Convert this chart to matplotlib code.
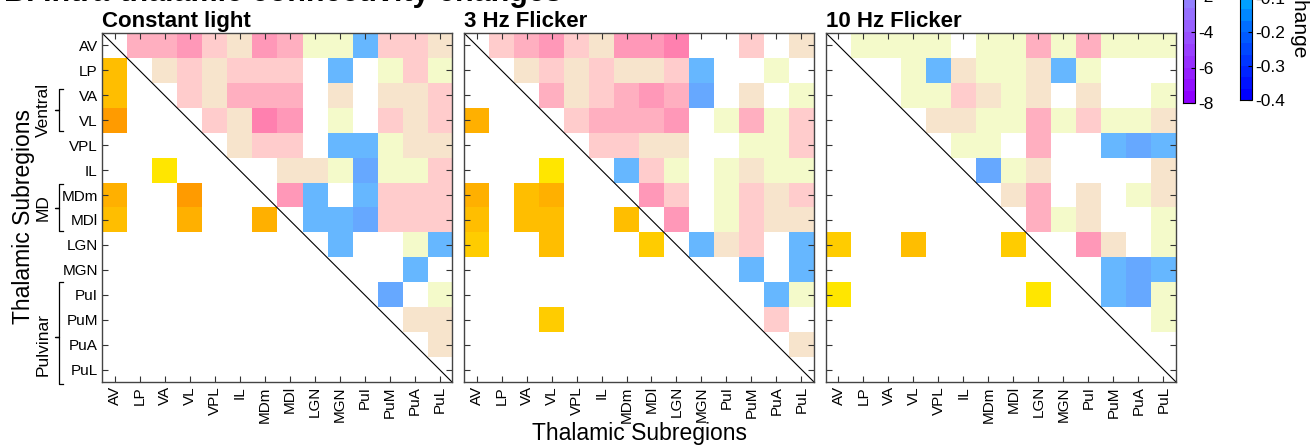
import numpy as np
import matplotlib
matplotlib.use("Agg")
import matplotlib.pyplot as plt
from matplotlib.colors import ListedColormap, Normalize
from matplotlib.cm import ScalarMappable

plt.rcParams['font.family'] = ['Liberation Sans', 'DejaVu Sans']
plt.rcParams['axes.unicode_minus'] = False

regions = ["AV", "LP", "VA", "VL", "VPL", "IL", "MDm", "MDl",
           "LGN", "MGN", "PuI", "PuM", "PuA", "PuL"]
titles = ["Constant light", "3 Hz Flicker", "10 Hz Flicker"]

# upper triangle: connectivity change (0 = not significant)
change_const = [
  [0, .15, .15, .18, .12, .08, .18, .15, .05, .05, -.15, .12, .12, .08],
  [0, 0, .08, .12, .08, .12, .12, .12, 0, -.15, 0, .05, .12, .05],
  [0, 0, 0, .12, .08, .15, .15, .15, 0, .08, 0, .08, .08, .12],
  [0, 0, 0, 0, .12, .08, .22, .18, 0, .05, 0, .12, .08, .12],
  [0, 0, 0, 0, 0, .08, .12, .12, 0, -.15, -.15, .05, .08, .08],
  [0, 0, 0, 0, 0, 0, 0, .08, .08, .05, -.19, .05, .05, .12],
  [0, 0, 0, 0, 0, 0, 0, .18, -.15, 0, -.15, .12, .12, .12],
  [0, 0, 0, 0, 0, 0, 0, 0, -.15, -.15, -.19, .12, .12, .12],
  [0, 0, 0, 0, 0, 0, 0, 0, 0, -.15, 0, 0, .05, -.15],
  [0, 0, 0, 0, 0, 0, 0, 0, 0, 0, 0, 0, -.15, 0],
  [0, 0, 0, 0, 0, 0, 0, 0, 0, 0, 0, -.19, 0, .05],
  [0, 0, 0, 0, 0, 0, 0, 0, 0, 0, 0, 0, .08, .08],
  [0, 0, 0, 0, 0, 0, 0, 0, 0, 0, 0, 0, 0, .08],
  [0, 0, 0, 0, 0, 0, 0, 0, 0, 0, 0, 0, 0, 0],
]
change_3hz = [
  [0, .12, .15, .18, .12, .08, .18, .18, .22, 0, 0, .12, 0, .08],
  [0, 0, .08, .12, .08, .12, .08, .08, .12, -.15, 0, 0, .05, 0],
  [0, 0, 0, .15, .08, .12, .15, .18, .15, -.19, 0, .08, 0, .05],
  [0, 0, 0, 0, .12, .15, .15, .15, .18, 0, .05, .15, .05, .12],
  [0, 0, 0, 0, 0, .12, .12, .08, .08, 0, 0, .05, .05, .12],
  [0, 0, 0, 0, 0, 0, -.15, .12, .05, 0, .05, .08, .05, .05],
  [0, 0, 0, 0, 0, 0, 0, .18, .12, 0, .05, .12, .08, .12],
  [0, 0, 0, 0, 0, 0, 0, 0, .18, 0, .05, .12, .08, .08],
  [0, 0, 0, 0, 0, 0, 0, 0, 0, -.15, .08, .12, 0, -.15],
  [0, 0, 0, 0, 0, 0, 0, 0, 0, 0, 0, -.15, 0, -.15],
  [0, 0, 0, 0, 0, 0, 0, 0, 0, 0, 0, 0, -.15, .05],
  [0, 0, 0, 0, 0, 0, 0, 0, 0, 0, 0, 0, .12, 0],
  [0, 0, 0, 0, 0, 0, 0, 0, 0, 0, 0, 0, 0, .08],
  [0, 0, 0, 0, 0, 0, 0, 0, 0, 0, 0, 0, 0, 0],
]
change_10hz = [
  [0, .05, .05, .05, .05, 0, .05, .05, .15, .05, .15, .05, .05, .05],
  [0, 0, 0, .05, -.15, .08, .05, .05, .08, -.15, .05, 0, 0, 0],
  [0, 0, 0, .05, .05, .12, .08, .05, .08, 0, .08, 0, 0, .05],
  [0, 0, 0, 0, .08, .08, .05, .05, .15, .05, .12, .05, .05, .08],
  [0, 0, 0, 0, 0, .05, .05, 0, .15, 0, 0, -.15, -.19, -.15],
  [0, 0, 0, 0, 0, 0, -.19, .05, .08, 0, 0, 0, 0, .08],
  [0, 0, 0, 0, 0, 0, 0, .08, .15, 0, .08, 0, .05, .08],
  [0, 0, 0, 0, 0, 0, 0, 0, .15, .05, .08, 0, 0, .05],
  [0, 0, 0, 0, 0, 0, 0, 0, 0, 0, .18, .08, 0, .05],
  [0, 0, 0, 0, 0, 0, 0, 0, 0, 0, 0, -.15, -.19, -.15],
  [0, 0, 0, 0, 0, 0, 0, 0, 0, 0, 0, -.15, -.19, .05],
  [0, 0, 0, 0, 0, 0, 0, 0, 0, 0, 0, 0, 0, .05],
  [0, 0, 0, 0, 0, 0, 0, 0, 0, 0, 0, 0, 0, 0],
  [0, 0, 0, 0, 0, 0, 0, 0, 0, 0, 0, 0, 0, 0],
]

# lower triangle: t values of significant pairs (row, col, t)
tval_const = [("LP", "AV", 5.0), ("VA", "AV", 5.0), ("VL", "AV", 6.3),
              ("IL", "VA", 3.0), ("MDm", "AV", 5.6), ("MDm", "VL", 6.3),
              ("MDl", "AV", 5.0), ("MDl", "VL", 5.6), ("MDl", "MDm", 5.6)]
tval_3hz = [("VL", "AV", 5.6), ("IL", "VL", 3.0), ("MDm", "AV", 5.6),
            ("MDm", "VA", 5.0), ("MDm", "VL", 5.6), ("MDl", "AV", 5.0),
            ("MDl", "VA", 5.0), ("MDl", "VL", 5.0), ("MDl", "MDm", 5.0),
            ("LGN", "AV", 4.3), ("LGN", "VL", 5.0), ("LGN", "MDl", 4.3),
            ("PuM", "VL", 4.3)]
tval_10hz = [("LGN", "AV", 4.3), ("LGN", "VL", 5.0), ("LGN", "MDl", 4.3),
             ("PuI", "AV", 3.0), ("PuI", "LGN", 3.0)]

t_colors = [(143, 0, 255), (146, 16, 255), (149, 32, 255), (151, 48, 255),
            (153, 64, 255), (153, 80, 255), (152, 96, 255), (150, 112, 255),
            (148, 128, 255), (150, 145, 255), (180, 178, 255), (220, 218, 255),
            (255, 255, 225), (255, 250, 180), (255, 245, 120), (255, 238, 60),
            (255, 230, 0), (255, 217, 0), (255, 204, 0), (255, 190, 0),
            (255, 176, 0), (255, 155, 0), (255, 125, 0), (255, 90, 0)]
ch_colors = [(0, 0, 255), (0, 18, 255), (0, 36, 255), (0, 54, 255),
             (0, 72, 255), (0, 90, 255), (0, 110, 255), (0, 135, 255),
             (0, 160, 255), (0, 185, 255), (0, 205, 255), (130, 230, 255),
             (245, 250, 215), (238, 247, 168), (243, 210, 170), (255, 170, 170),
             (255, 123, 150), (255, 83, 137), (255, 43, 123), (245, 20, 110),
             (230, 0, 100), (210, 0, 90), (190, 0, 80), (170, 0, 70)]
cmap_t = ListedColormap(np.array(t_colors) / 255.0)
cmap_ch = ListedColormap(np.array(ch_colors) / 255.0)
norm_t = Normalize(-8, 8)
norm_ch = Normalize(-0.4, 0.4)

W, H = 1312, 446
fig = plt.figure(figsize=(W / 100, H / 100), dpi=100)

def fx(px):
  return px / W

def fy(py):
  return 1 - py / H

n = len(regions)
idx = {r: i for i, r in enumerate(regions)}
lefts = [102, 464, 826]
changes = [change_const, change_3hz, change_10hz]
tvals = [tval_const, tval_3hz, tval_10hz]

axes = []
for k in range(3):
  ax = fig.add_axes([fx(lefts[k]), fy(382), 350 / W, 349 / H])
  up = np.array(changes[k], dtype=float)
  up[up == 0] = np.nan
  low = np.full((n, n), np.nan)
  for r, c, v in tvals[k]:
    low[idx[r], idx[c]] = v
  ax.imshow(low, cmap=cmap_t, norm=norm_t, interpolation='nearest', aspect='auto')
  ax.imshow(up, cmap=cmap_ch, norm=norm_ch, interpolation='nearest', aspect='auto', alpha=0.6)
  ax.plot([-0.5, n - 0.5], [-0.5, n - 0.5], color='k', lw=0.8)
  ax.set_xlim(-0.5, n - 0.5)
  ax.set_ylim(n - 0.5, -0.5)
  ax.set_xticks(range(n))
  ax.set_yticks(range(n))
  ax.set_xticklabels(regions, rotation=90)
  ax.set_yticklabels(regions if k == 0 else [])
  ax.tick_params(direction='in', top=True, right=True, length=4, width=0.8,
                 color='#333333', labelsize=11, pad=3)
  for s in ax.spines.values():
    s.set_color('#444444')
    s.set_linewidth(1.0)
  ax.set_title(titles[k], loc='left', fontsize=16, fontweight='bold', pad=4)
  axes.append(ax)

# group brackets on the left panel
ax = axes[0]
def bracket(ax, y0, y1, ym, label, ylab):
  x = -2.2
  ax.plot([x + 0.14, x, x, x - 0.16, x, x, x + 0.14], [y0, y0, ym, ym, ym, y1, y1],
          color='k', lw=0.9, clip_on=False)
  ax.text(-2.86, ylab, label, rotation=90, ha='center', va='center', fontsize=12.5)

bracket(ax, 1.75, 3.45, 2.6, "Ventral", 2.58)
bracket(ax, 5.55, 7.45, 6.5, "MD", 6.5)
bracket(ax, 9.5, 13.6, 11.7, "Pulvinar", 12.0)

fig.text(fx(24), fy(217), "Thalamic Subregions", rotation=90, ha='center',
         va='center', fontsize=16.5)
fig.text(fx(639), fy(440), "Thalamic Subregions", ha='center', va='baseline',
         fontsize=16.5)
fig.text(fx(4), fy(1.5), "B. Intra-thalamic connectivity changes", ha='left',
         va='baseline', fontsize=22, fontweight='bold')

# colorbars (partly above the figure edge, as in the reference)
cax1 = fig.add_axes([fx(1183), fy(103), 12 / W, 284 / H])
cb1 = fig.colorbar(ScalarMappable(norm=norm_t, cmap=cmap_t), cax=cax1,
                   ticks=range(-8, 9, 2))
cax2 = fig.add_axes([fx(1240), fy(100), 12 / W, 272 / H])
cb2 = fig.colorbar(ScalarMappable(norm=norm_ch, cmap=cmap_ch), cax=cax2,
                   ticks=[-0.4, -0.3, -0.2, -0.1, 0, 0.1, 0.2, 0.3, 0.4], format='%g')
for cb in (cb1, cb2):
  cb.outline.set_linewidth(0.8)
  cb.ax.tick_params(direction='in', length=3, width=0.8, labelsize=12.5, pad=2)
fig.text(fx(1299), fy(58), "Change", rotation=270, ha='center', va='bottom',
         fontsize=15)

fig.savefig("out.png", dpi=100)
